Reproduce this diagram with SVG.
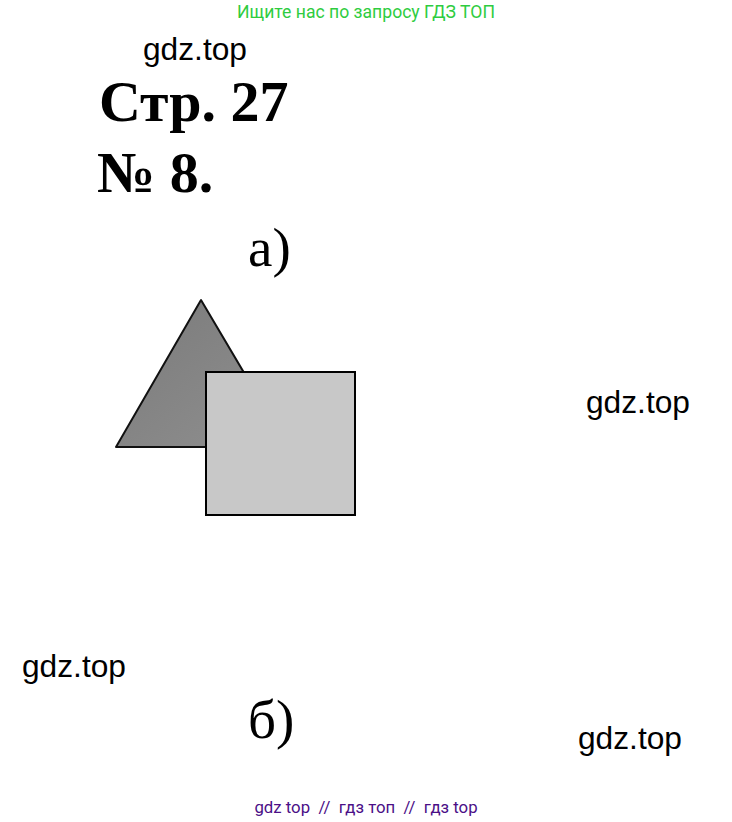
<svg xmlns="http://www.w3.org/2000/svg" width="732" height="822" viewBox="0 0 732 822">
<style>
.wm{font-family:"Liberation Sans",Arial,sans-serif;font-size:31.7px;fill:#000}
.hd{font-family:"Liberation Serif","Times New Roman",serif;font-weight:bold;font-size:58px;fill:#000}
.lb{font-family:"Liberation Serif","Times New Roman",serif;font-size:55px;fill:#000}
</style>
<defs>
<linearGradient id="tg" x1="0" y1="0" x2="1" y2="1">
<stop offset="0" stop-color="#7a7a7a"/>
<stop offset="1" stop-color="#909090"/>
</linearGradient>
</defs>
<rect width="732" height="822" fill="#fff"/>
<text x="366" y="18" text-anchor="middle" font-family="Roboto,sans-serif" font-size="17.6" fill="#2ecc40">Ищите нас по запросу ГДЗ ТОП</text>
<text class="wm" x="143" y="60">gdz.top</text>
<text class="hd" x="99" y="121">Стр. 27</text>
<text class="hd" x="97" y="192">№ 8.</text>
<text class="lb" x="248" y="266">а)</text>
<g id="triangle">
<polygon points="201,300 116,447 288,447" fill="url(#tg)" stroke="#111" stroke-width="2" stroke-linejoin="round"/>
</g>
<g id="square">
<rect x="206" y="372" width="149" height="143" fill="#c8c8c8" stroke="#000" stroke-width="2"/>
</g>
<g id="connectors"/>
<text class="wm" x="586" y="413">gdz.top</text>
<text class="wm" x="22" y="677">gdz.top</text>
<text class="lb" x="248" y="738">б)</text>
<text class="wm" x="578" y="749">gdz.top</text>
<text x="366" y="813" text-anchor="middle" font-family="Roboto,sans-serif" font-size="16.8" fill="#4b0f87" style="white-space:pre">gdz top  //  гдз топ  //  гдз top</text>
</svg>
